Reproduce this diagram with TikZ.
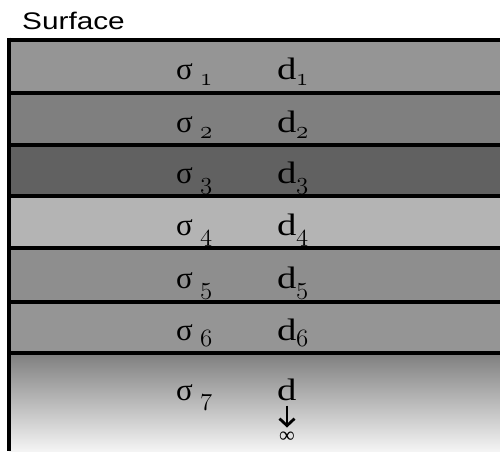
\documentclass[tikz,border=0pt]{standalone}
\usepackage{fontspec}
\setmainfont{Liberation Serif}
\newfontfamily\sansf{Liberation Sans}
\usetikzlibrary{arrows.meta}
\newcommand{\osf}[1]{{\fontsize{28}{28}\usefont{OML}{lmm}{m}{it}#1}}
\newcommand{\wide}[1]{\scalebox{1.25}[1]{#1}}
\definecolor{cA}{HTML}{959595}
\definecolor{cB}{HTML}{7F7F7F}
\definecolor{cC}{HTML}{616161}
\definecolor{cD}{HTML}{B4B4B4}
\definecolor{cE}{HTML}{8E8E8E}
\definecolor{cF}{HTML}{959595}
\definecolor{cTop}{HTML}{7E7E7E}
\definecolor{cBot}{HTML}{F4F4F4}
\tikzset{
  boundary/.style={line width=4pt, black},
  sym/.style={inner sep=0pt, anchor=base west, font=\fontsize{31}{31}\selectfont},
  idx/.style={inner sep=0pt, anchor=base west},
}
\begin{document}
\begin{tikzpicture}[x=1pt,y=-1pt]
\useasboundingbox (0,0) rectangle (500,451);
% layers
\fill[cA] (9,39.5) rectangle (500,92.5);
\fill[cB] (9,92.5) rectangle (500,145);
\fill[cC] (9,145) rectangle (500,195.5);
\fill[cD] (9,195.5) rectangle (500,248);
\fill[cE] (9,248) rectangle (500,302);
\fill[cF] (9,302) rectangle (500,352.5);
\shade[top color=cTop, bottom color=cBot] (9,352.5) rectangle (500,451);
% boundaries
\foreach \yy in {39.5,92.5,145,195.5,248,302,352.5}
  \draw[boundary] (9,\yy) -- (500,\yy);
\draw[boundary] (9,37.5) -- (9,451);
% title
\node[inner sep=0pt, anchor=base west, font=\sansf\fontsize{24}{24}\selectfont] (surf) at (22,29) {\scalebox{1.24}[1]{Surface}};
% labels
\foreach \i/\yb in {1/79,2/132,3/183,4/235,5/288,6/340} {
  \node[sym] (s\i) at (176,\yb) {σ};
  \node[idx] (si\i) at (200,\yb+6) {\osf{\i}};
  \node[sym] (d\i) at (277,\yb) {\wide{d}};
  \node[idx] (di\i) at (296,\yb+6) {\osf{\i}};
}
\node[sym] (s7) at (176,400) {σ};
\node[idx] (si7) at (200,405) {\osf{7}};
\node[sym] (d7) at (277,400) {\wide{d}};
\node[inner sep=0pt, font=\fontsize{22}{22}\selectfont] (inf) at (287,437) {∞};
\draw[line width=2.8pt, -{Straight Barb[length=7pt,width=15pt,line width=2.8pt]}]
  ([yshift=-5pt]d7.south -| inf.north) -- ([yshift=4pt]inf.north);
\end{tikzpicture}
\end{document}
